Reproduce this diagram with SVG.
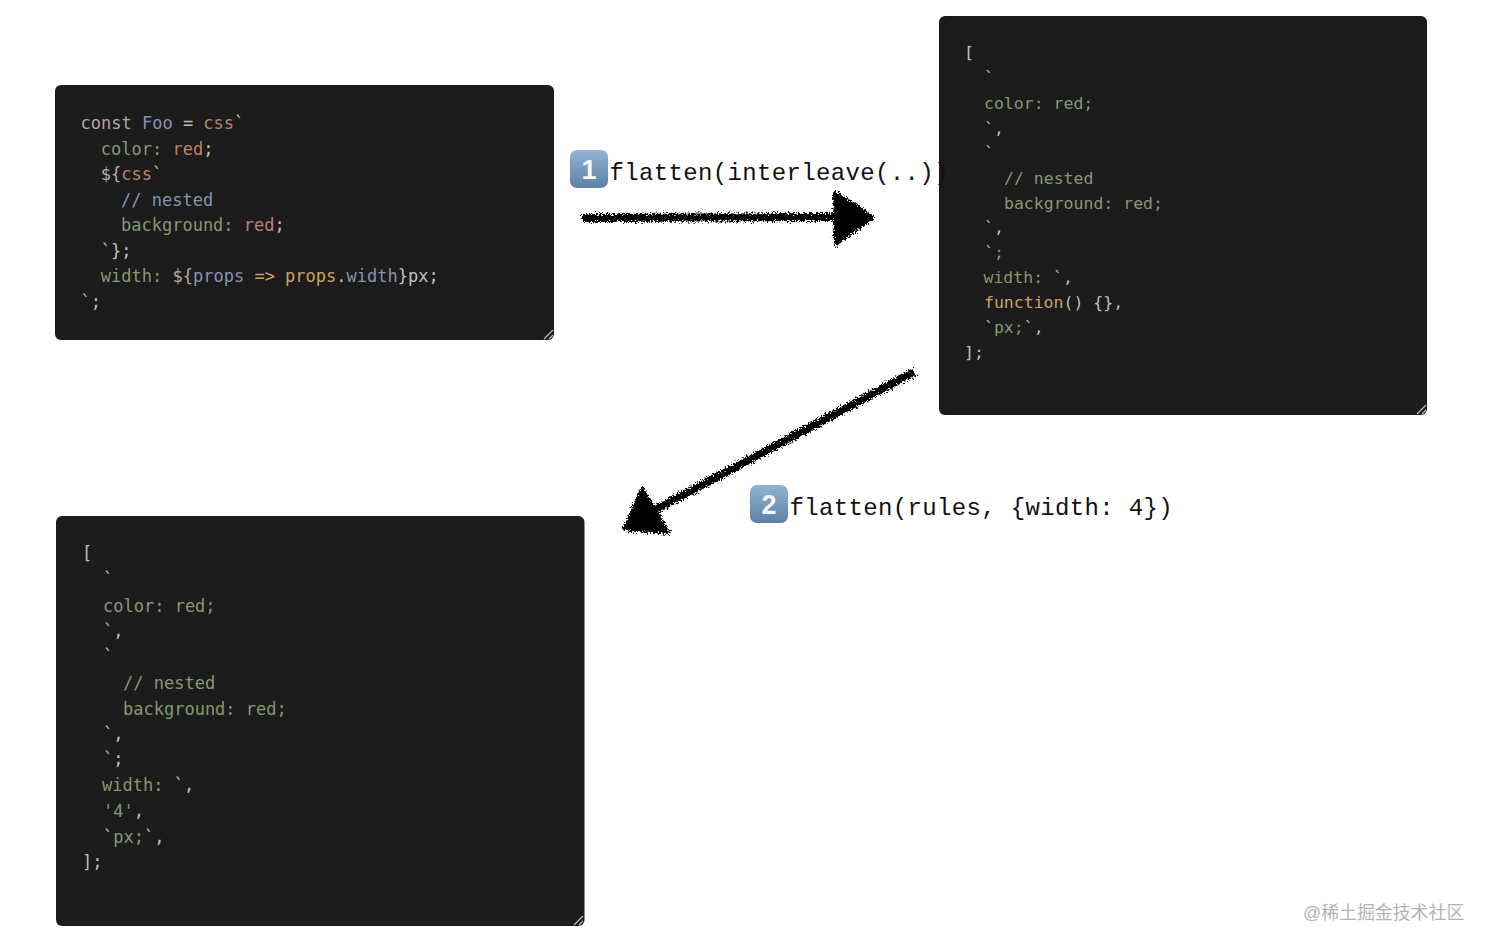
<svg xmlns="http://www.w3.org/2000/svg" width="1490" height="948" viewBox="0 0 1490 948">
<style>
.panel{fill:#1b1b1b}
.grip{stroke:#bbb;stroke-width:1.2;fill:none}
.code{font-family:"DejaVu Sans Mono","Liberation Mono",monospace;fill:#bdbfbe}
.a{font-size:17px}
.b{font-size:16.5px}
.g{fill:#85996f}
.r{fill:#bd8468}
.bl{fill:#8494ae}
.o{fill:#cfa262}
.p{fill:#b5a6a0}
.label{font-family:"Liberation Mono","DejaVu Sans Mono",monospace;font-size:24px;letter-spacing:.35px;fill:#111}
.num{font-family:"Liberation Sans",Arial,sans-serif;font-size:27px;font-weight:700;fill:#f3f6fa;text-anchor:middle}
.ink{fill:#000;stroke:#000;stroke-linejoin:round}
.wm{font-family:"Liberation Sans","Noto Sans CJK SC",sans-serif;font-size:17.9px;fill:#b4b4b4}
</style>
<defs>
<linearGradient id="key" x1="0" y1="0" x2="0" y2="1"><stop offset="0" stop-color="#93b4d3"/><stop offset="1" stop-color="#5b81a8"/></linearGradient>
<filter id="rough" x="-10%" y="-20%" width="120%" height="140%"><feTurbulence type="fractalNoise" baseFrequency="0.6" numOctaves="2" seed="4"/><feDisplacementMap in="SourceGraphic" scale="9" xChannelSelector="R" yChannelSelector="G"/></filter>
</defs>

<g id="connectors">
<g id="arrow-1" filter="url(#rough)">
<path class="ink" d="M582 218L836 217" stroke-width="8" fill="none"/>
<path class="ink" stroke-width="4" d="M835 193L873 217L836 244Z"/>
</g>
<g id="arrow-2" filter="url(#rough)">
<path class="ink" d="M914 372L655 510" stroke-width="8" fill="none"/>
<path class="ink" stroke-width="4" d="M642 489L668 532L624 529Z"/>
</g>
</g>

<g id="panel-source">
<rect class="panel" x="55" y="85" width="499" height="255" rx="6"/>
<path class="grip" d="M544 339L553 330M549 339L553 335"/>
<g class="code a">
<text x="80.500" y="129"><tspan class="p">const </tspan><tspan class="bl">Foo</tspan> = <tspan class="r">css</tspan>`</text>
<text x="100.800" y="154.500"><tspan class="g">color:</tspan> <tspan class="r">red</tspan>;</text>
<text x="100.800" y="180"><tspan class="p">${</tspan><tspan class="r">css</tspan>`</text>
<text x="121" y="205.500" class="bl">// nested</text>
<text x="121" y="231"><tspan class="g">background:</tspan> <tspan class="r">red</tspan>;</text>
<text x="100.800" y="256.500">`};</text>
<text x="100.800" y="282"><tspan class="g">width:</tspan> <tspan class="p">${</tspan><tspan class="bl">props</tspan> <tspan class="o">=&gt; props</tspan>.<tspan class="bl">width</tspan>}px;</text>
<text x="80.500" y="307.500">`;</text>
</g>
</g>

<g id="panel-interleaved">
<rect class="panel" x="939" y="16" width="488" height="399" rx="6"/>
<path class="grip" d="M1417 414L1426 405M1422 414L1426 410"/>
<g class="code b">
<text x="964" y="58">[</text>
<text x="984" y="83">`</text>
<text x="984" y="108.500" class="g">color: red;</text>
<text x="984" y="133.500">`,</text>
<text x="984" y="158">`</text>
<text x="1004" y="183.500" class="g">// nested</text>
<text x="1004" y="208.500" class="g">background: red;</text>
<text x="984" y="233">`,</text>
<text x="984" y="258">`<tspan class="g">;</tspan></text>
<text x="983.500" y="283"><tspan class="g">width:</tspan> `,</text>
<text x="984" y="308"><tspan class="o">function</tspan>() {},</text>
<text x="984" y="333">`<tspan class="g">px;</tspan>`,</text>
<text x="964" y="357.500">];</text>
</g>
</g>

<g id="panel-flattened">
<rect class="panel" x="56" y="516" width="528.500" height="410" rx="6"/>
<path class="grip" d="M574 925L583 916M579 925L583 921"/>
<g class="code a">
<text x="82" y="559">[</text>
<text x="103" y="585">`</text>
<text x="103" y="611.500" class="g">color: red;</text>
<text x="103" y="637">`,</text>
<text x="103" y="662">`</text>
<text x="123" y="688.500" class="g">// nested</text>
<text x="123" y="714.500" class="g">background: red;</text>
<text x="103" y="739.500">`,</text>
<text x="103" y="765">`;</text>
<text x="102" y="791"><tspan class="g">width:</tspan> `,</text>
<text x="103" y="816.500"><tspan class="g">'4'</tspan>,</text>
<text x="103" y="842.500">`<tspan class="g">px;</tspan>`,</text>
<text x="82" y="867.500">];</text>
</g>
</g>

<g id="label-1">
<rect x="570" y="150" width="38" height="38" rx="7" fill="url(#key)"/>
<text class="num" x="589" y="179">1</text>
<text class="label" x="609.500" y="180">flatten(interleave(..))</text>
</g>
<g id="label-2">
<rect x="750" y="485" width="38" height="38" rx="7" fill="url(#key)"/>
<text class="num" x="769" y="514">2</text>
<text class="label" x="789.500" y="515">flatten(rules, {width: 4})</text>
</g>

<text id="watermark" class="wm" x="1303" y="919">@稀土掘金技术社区</text>
</svg>
